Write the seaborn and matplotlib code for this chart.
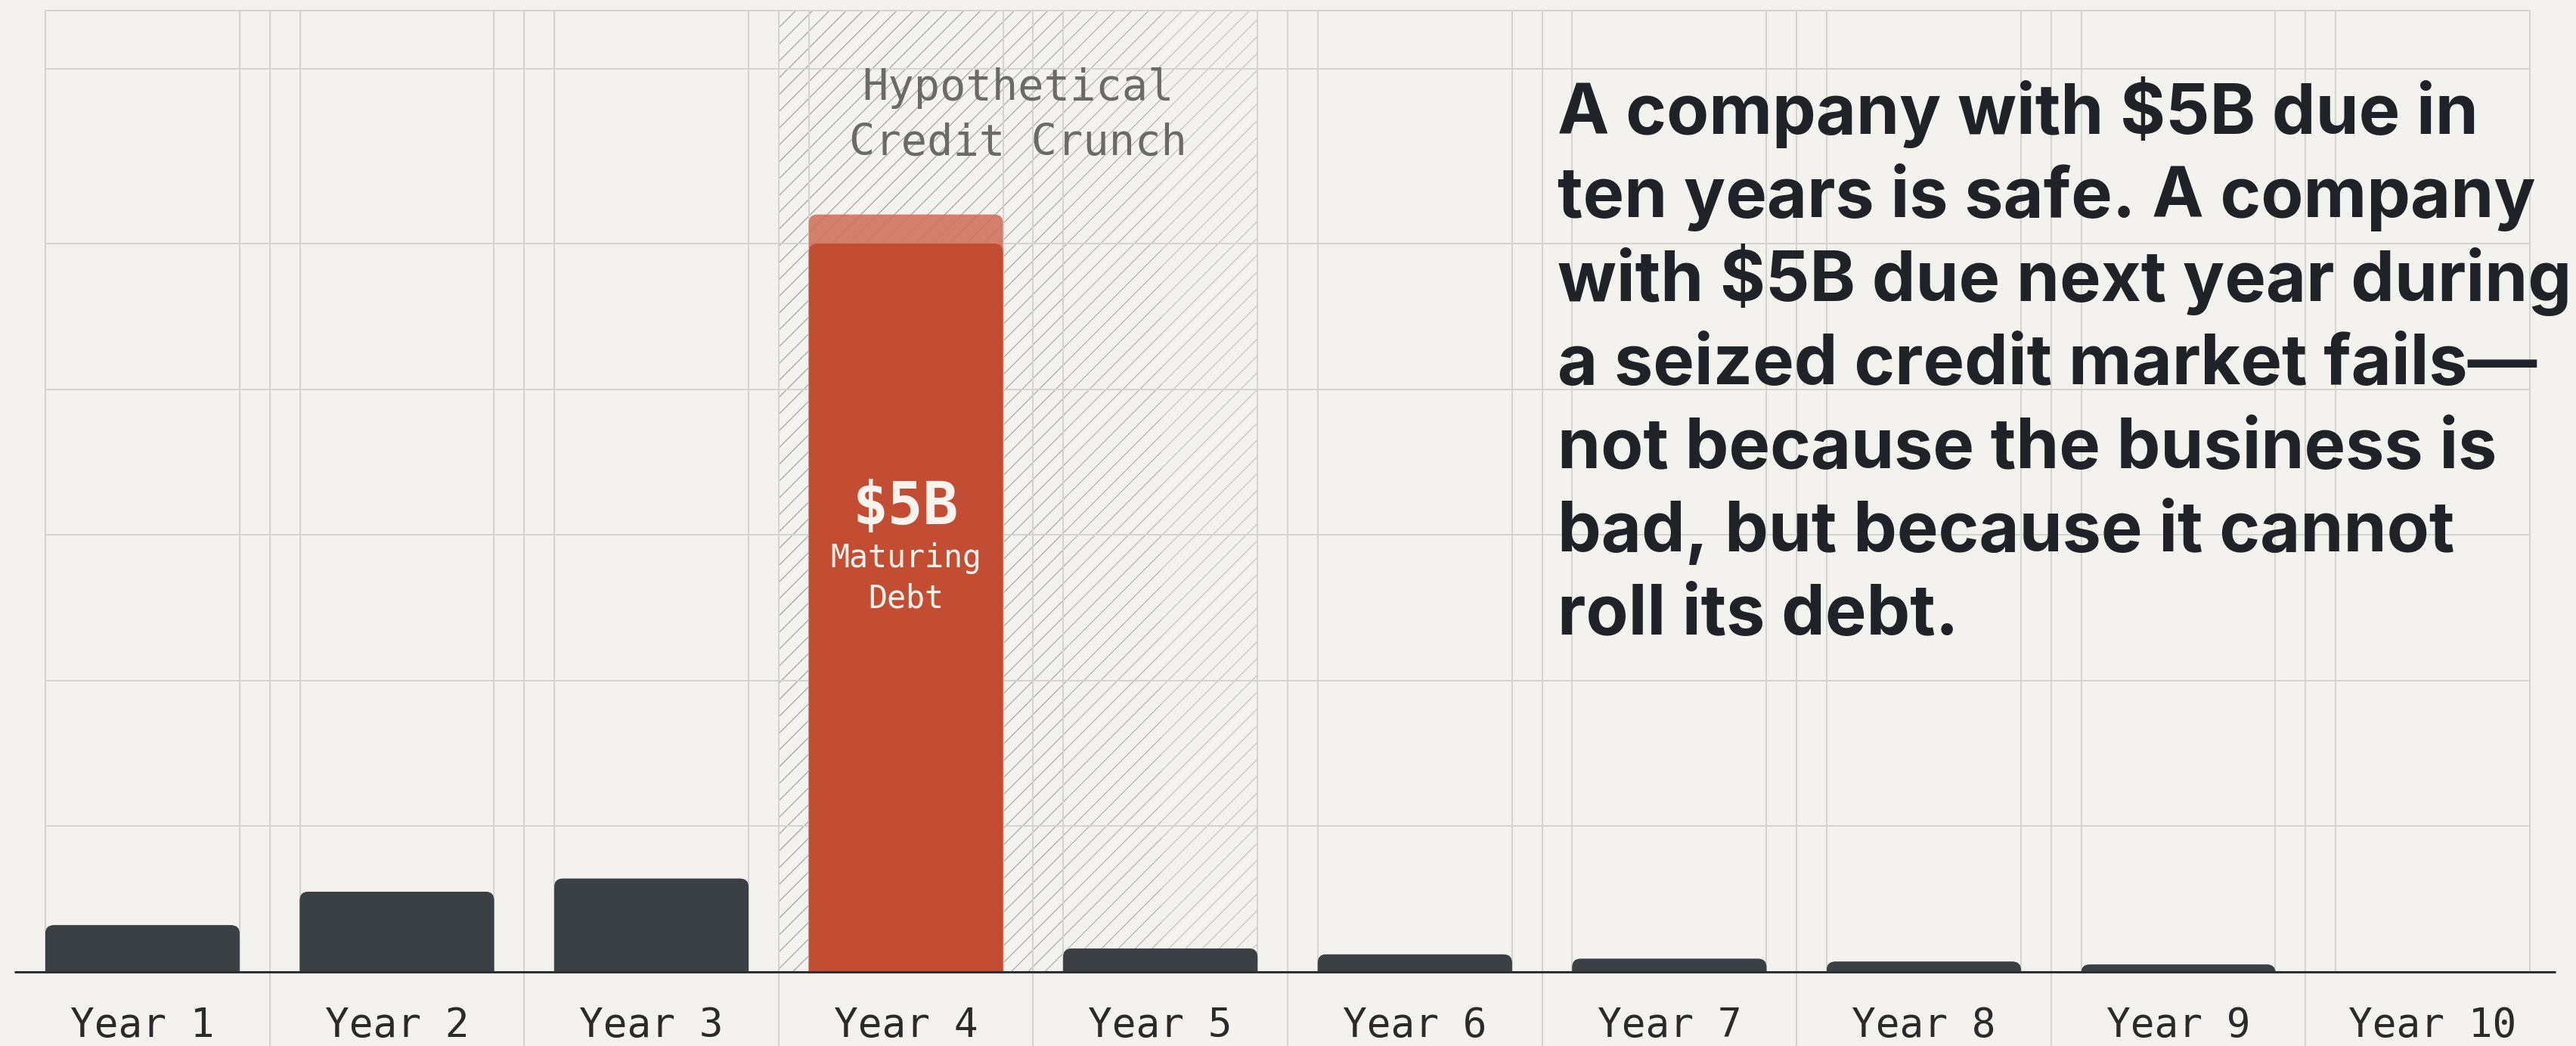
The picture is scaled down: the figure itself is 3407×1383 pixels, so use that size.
import numpy as np
import pandas as pd
import matplotlib
matplotlib.use("Agg")
import matplotlib.pyplot as plt
import seaborn as sns
from matplotlib.patches import FancyBboxPatch

# ---------------- data ----------------
years = ["Year 1", "Year 2", "Year 3", "Year 4", "Year 5",
         "Year 6", "Year 7", "Year 8", "Year 9", "Year 10"]
maturing_debt = [0.32, 0.55, 0.64, 5.0, 0.16, 0.12, 0.09, 0.07, 0.05, 0.0]   # $B
overhang = [0, 0, 0, 0.2, 0, 0, 0, 0, 0, 0]                                   # lighter cap
highlight_year = "Year 4"
grid_levels = [1, 2, 3, 4, 5, 6.2]
crunch_lines = ["Hypothetical", "Credit Crunch"]
bar_value_label = "$5B"
bar_text_lines = ["Maturing", "Debt"]
message_lines = [
    "A company with $5B due in",
    "ten years is safe. A company",
    "with $5B due next year during",
    "a seized credit market fails\u2014",
    "not because the business is",
    "bad, but because it cannot",
    "roll its debt.",
]

# ---------------- style ----------------
BG = "#f3f2ee"
GRID = "#d4d4cf"
DARK = "#3b4045"
RED = "#c24d33"
RED_LIGHT = "#d0735d"
INK = "#1f2328"
BAR_W = 0.763
W_PX, H_PX, DPI = 3407, 1383, 200

sns.set_theme(style="white")
plt.rcParams["hatch.linewidth"] = 0.45
plt.rcParams["font.family"] = ["DejaVu Sans"]

fig = plt.figure(figsize=(W_PX / DPI, H_PX / DPI), dpi=DPI, facecolor=BG)
ax_left, ax_right, ax_top, ax_bot = 60, 3346, 14, 1285
ax = fig.add_axes([ax_left / W_PX, (H_PX - ax_bot) / H_PX,
                   (ax_right - ax_left) / W_PX, (ax_bot - ax_top) / H_PX])
ax.set_facecolor(BG)

df = pd.DataFrame({"year": years, "debt": maturing_debt,
                   "total": np.add(maturing_debt, overhang)})
pal_cap = {y: (RED_LIGHT if y == highlight_year else DARK) for y in years}
pal_main = {y: (RED if y == highlight_year else DARK) for y in years}

sns.barplot(data=df, x="year", y="total", hue="year", palette=pal_cap,
            width=BAR_W, legend=False, errorbar=None, saturation=1, ax=ax)
sns.barplot(data=df, x="year", y="debt", hue="year", palette=pal_main,
            width=BAR_W, legend=False, errorbar=None, saturation=1, ax=ax)

n = len(years)
xmin, xmax = -BAR_W / 2, n - 1 + BAR_W / 2
ymax = 6.6
ax.set_xlim(xmin, xmax)
ax.set_ylim(0, ymax)

# round the top corners of the bars drawn by seaborn
px_per_x = (ax_right - ax_left) / (xmax - xmin)
px_per_y = (ax_bot - ax_top) / ymax
r_px = 11
rx, ry = r_px / px_per_x, r_px / px_per_y
bars = list(ax.patches)
for k, p in enumerate(bars):
    x, y, w, h = p.get_x(), p.get_y(), p.get_width(), p.get_height()
    fc = p.get_facecolor()
    p.remove()
    if h <= 0:
        continue
    zo = 3 if k < n else 4
    fb = FancyBboxPatch((x, y - 2 * ry), w, h + 2 * ry,
                        boxstyle=f"round,pad=0,rounding_size={rx}",
                        mutation_aspect=ry / rx, fc=fc, ec="none", zorder=zo)
    if k < n and overhang[k] > 0:
        fb.set_alpha(0.9)
    ax.add_patch(fb)

# grid
xs = np.arange(n)
edges = np.concatenate([xs - BAR_W / 2, xs + BAR_W / 2])
ax.vlines(edges, 0, ymax, color=GRID, lw=0.7, zorder=1)
ax.vlines(xs[:-1] + 0.5, -0.08, 1, transform=ax.get_xaxis_transform(),
          color=GRID, lw=0.7, zorder=1, clip_on=False)
for gy in grid_levels:
    ax.axhline(gy, color=GRID, lw=0.7, zorder=1)

# hatched crunch region (fading to the right)
hx0, hx1 = 2.5, 4 + BAR_W / 2
segs = np.linspace(hx0, hx1, 6)
alphas = [0.75, 0.75, 0.7, 0.6, 0.45]
for a0, a1, al in zip(segs[:-1], segs[1:], alphas):
    ax.axvspan(a0, a1, facecolor="none", edgecolor=(0.55, 0.55, 0.53, al),
               hatch="///", lw=0, zorder=0.5)

# spines / baseline
for s in ["left", "right", "top"]:
    ax.spines[s].set_color(GRID)
    ax.spines[s].set_linewidth(0.7)
ax.spines["bottom"].set_visible(False)
ax.plot([-0.0125, 1.0103], [0, 0], transform=ax.get_yaxis_transform(),
        color="#2c3034", lw=1.1, clip_on=False, zorder=6, solid_capstyle="butt")

# ticks
ax.set_yticks([])
ax.set_xticks(xs)
ax.set_xticklabels(years, fontfamily="DejaVu Sans Mono", fontsize=19, color="#2a2a2a")
ax.tick_params(axis="x", length=0, pad=16)
ax.set_xlabel("")
ax.set_ylabel("")

# annotations
def ydata(px):
    return (ax_bot - px) / px_per_y

cx = (hx0 + hx1) / 2
for line, base in zip(crunch_lines, [132, 205]):
    ax.text(cx, ydata(base), line, ha="center", va="baseline",
            fontfamily="DejaVu Sans Mono", fontsize=20.5, color="#6a6a68", zorder=5)

hi = years.index(highlight_year)
ax.text(hi, ydata(693), bar_value_label, ha="center", va="baseline",
        fontfamily="DejaVu Sans Mono", fontweight="bold", fontsize=28,
        color="#fbf3ee", zorder=6)
for line, base in zip(bar_text_lines, [750, 803]):
    ax.text(hi, ydata(base), line, ha="center", va="baseline",
            fontfamily="DejaVu Sans Mono", fontsize=15, color="#fbf3ee", zorder=6)

for i, line in enumerate(message_lines):
    base = 177 + 110.4 * i
    fig.text(2060 / W_PX, 1 - base / H_PX, line, ha="left", va="baseline",
             fontfamily="Inter", fontweight="bold", fontsize=33, color=INK)

fig.savefig("out.png", dpi=DPI, facecolor=BG)
